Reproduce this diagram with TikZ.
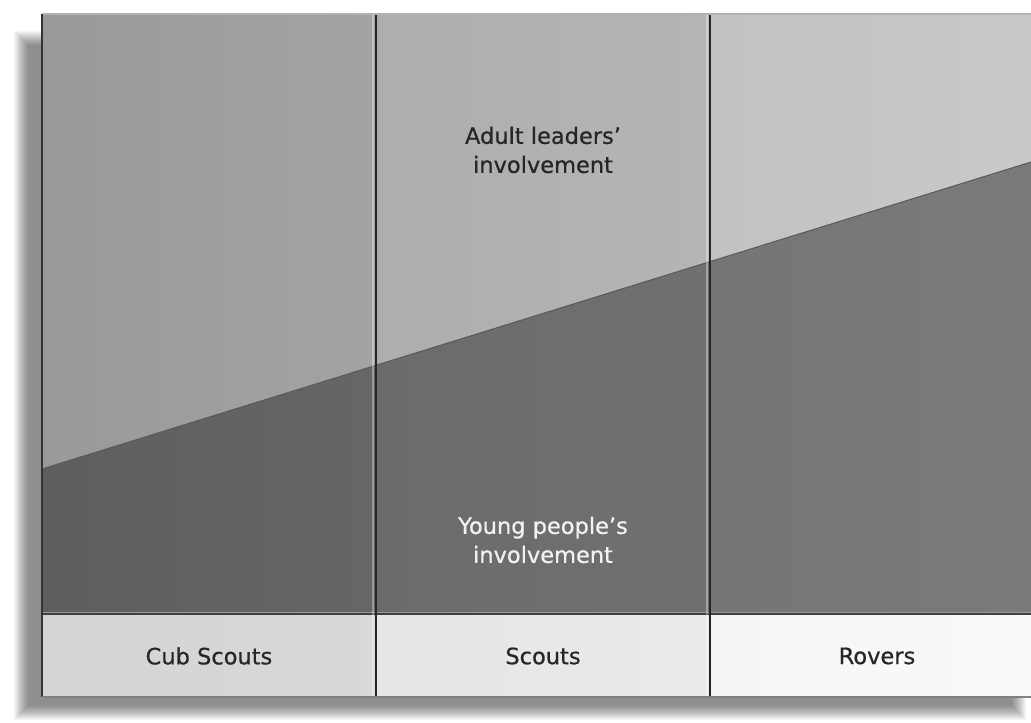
\documentclass[tikz,border=0pt]{standalone}
\usepackage{fontspec}
\setmainfont{DejaVu Sans}[BoldFont={DejaVu Sans}, BoldFeatures={FakeBold=0.6}]
\begin{document}
\begin{tikzpicture}[x=1pt,y=-1pt,
  lbl/.style={font=\fontsize{22.5}{29}\selectfont\bfseries, align=center, text=black!85},
  lowlbl/.style={lbl, text=white!95!black},
  divider/.style={line width=2pt, draw=black!85},
  highlight/.style={line width=1.5pt, draw=white, opacity=0.35}]
\useasboundingbox (0,0) rectangle (1031,723);
\fill[white] (0,0) rectangle (1031,723);
\clip (0,0) rectangle (1031,723);
% soft shadow
\foreach \i in {0,...,14} {
  \fill[black, opacity=0.035] (14+\i,31+\i) rectangle (1026-\i,720-\i);
}
% coordinates
\coordinate (TL) at (42,14);
\coordinate (TA) at (376,14);
\coordinate (TB) at (710,14);
\coordinate (TR) at (1044,14);
\coordinate (DL) at (42,469);
\coordinate (DA) at (376,365.3);
\coordinate (DB) at (710,261.6);
\coordinate (DR) at (1044,158);
\coordinate (ML) at (42,614);
\coordinate (MA) at (376,614);
\coordinate (MB) at (710,614);
\coordinate (MR) at (1044,614);
\coordinate (BL) at (42,697);
\coordinate (BA) at (376,697);
\coordinate (BB) at (710,697);
\coordinate (BR) at (1044,697);
% upper (adult) regions
\shade[left color=black!40, right color=black!36] (TL) -- (TA) -- (DA) -- (DL) -- cycle;
\shade[left color=black!32, right color=black!29] (TA) -- (TB) -- (DB) -- (DA) -- cycle;
\shade[left color=black!24, right color=black!21] (TB) -- (TR) -- (DR) -- (DB) -- cycle;
% lower (young people) regions
\shade[left color=black!63, right color=black!60] (DL) -- (DA) -- (MA) -- (ML) -- cycle;
\shade[left color=black!58, right color=black!56] (DA) -- (DB) -- (MB) -- (MA) -- cycle;
\shade[left color=black!54, right color=black!52] (DB) -- (DR) -- (MR) -- (MB) -- cycle;
% label row
\shade[left color=black!17, right color=black!15] (ML) rectangle (BA);
\shade[left color=black!10, right color=black!8] (MA) rectangle (BB);
\shade[left color=black!4, right color=black!2] (MB) rectangle (BR);
% diagonal boundary
\draw[black!65, line width=1pt] (DL) -- (DA) -- (DB) -- (DR);
% label row border
\draw[black!75, line width=1.8pt] (ML) -- (MR);
\draw[black!40, line width=1pt] ([yshift=2pt]ML) -- ([yshift=2pt]MR);
% dividers
\draw[highlight] ([xshift=-3pt]TA) -- ([xshift=-3pt]BA);
\draw[highlight] ([xshift=-3pt]TB) -- ([xshift=-3pt]BB);
\draw[divider] (TA) -- (BA);
\draw[divider] (TB) -- (BB);
% frame
\draw[black!30, line width=1.2pt] (TL) -- (TR);
\draw[black!80, line width=1.8pt] (TL) -- (BL);
\draw[black!50, line width=1.2pt] (BL) -- (BR);
% texts
\node[lbl] (adult) at (543,150) {Adult leaders’\\involvement};
\node[lowlbl] (young) at (543,540) {Young people’s\\involvement};
\node[lbl] (cub) at (209,656) {Cub Scouts};
\node[lbl] (scouts) at (543,656) {Scouts};
\node[lbl] (rovers) at (877,656) {Rovers};
\end{tikzpicture}
\end{document}
